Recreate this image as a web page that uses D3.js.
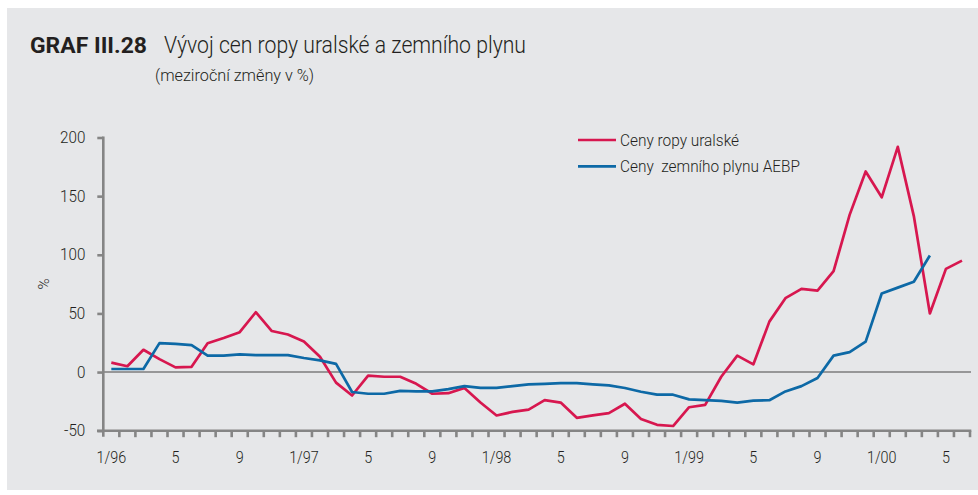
<!DOCTYPE html>
<html>
<head>
<meta charset="utf-8">
<script src="https://cdn.jsdelivr.net/npm/d3@7"></script>
<style>
  body { margin: 0; background: #ffffff; }
  text { font-family: Roboto, "Open Sans", sans-serif; fill: #231f20; }
</style>
</head>
<body>
<svg id="chart" width="978" height="495"></svg>
<script>
// Monthly categories, 1/1996 – 6/2000
const months = [
  "1/96","2/96","3/96","4/96","5/96","6/96","7/96","8/96","9/96","10/96","11/96","12/96",
  "1/97","2/97","3/97","4/97","5/97","6/97","7/97","8/97","9/97","10/97","11/97","12/97",
  "1/98","2/98","3/98","4/98","5/98","6/98","7/98","8/98","9/98","10/98","11/98","12/98",
  "1/99","2/99","3/99","4/99","5/99","6/99","7/99","8/99","9/99","10/99","11/99","12/99",
  "1/00","2/00","3/00","4/00","5/00","6/00"
];

// Urals crude oil price, year-on-year change in %
const oil = [
  8, 5, 19, 11, 4, 4.5, 24.5, 29, 34, 51, 35, 32,
  26, 13, -9, -20, -3, -4, -4, -10, -18.5, -18, -13.5, -26,
  -37, -34, -32, -24, -26, -39, -37, -35, -27, -40, -45, -46,
  -30, -28, -4, 14, 6.5, 43, 63, 71, 69.5, 86, 134, 171,
  149, 192, 133, 50, 88, 95
];

// AEBP natural gas price, year-on-year change in %
const gas = [
  2.6, 2.6, 2.6, 24.7, 24, 23, 14, 14, 15, 14.5, 14.5, 14.5,
  12, 10, 7, -17, -18.5, -18.5, -16, -16.5, -16.5, -14.5, -12, -13.5,
  -13.5, -12, -10.5, -10, -9.4, -9.4, -10.5, -11.4, -13.6, -16.8, -19.3, -19.3,
  -23.3, -24, -24.5, -26, -24.4, -24, -16.5, -12, -5, 14, 17, 26,
  67, 72, 77, 99.4
];

// Axis labels
const xTickLabels = ["1/96","5","9","1/97","5","9","1/98","5","9","1/99","5","9","1/00","5"];
const yTicks = [-50, 0, 50, 100, 150, 200];

const seriesNames = ["Ceny ropy uralské", "Ceny  zemního plynu AEBP"];
const colors = ["#d7174f", "#0d69a6"];

const svg = d3.select("#chart");

// panel background
svg.append("rect")
  .attr("x", 7).attr("y", 8).attr("width", 971).attr("height", 482)
  .attr("fill", "#e6e7e9");

// titles
svg.append("text")
  .attr("x", 30).attr("y", 53)
  .attr("font-size", 22).attr("font-weight", "bold")
  .attr("textLength", 117).attr("lengthAdjust", "spacingAndGlyphs")
  .text("GRAF III.28");
svg.append("text")
  .attr("x", 164).attr("y", 53)
  .attr("font-size", 23).attr("font-weight", 300)
  .attr("textLength", 362).attr("lengthAdjust", "spacingAndGlyphs")
  .text("Vývoj cen ropy uralské a zemního plynu");
svg.append("text")
  .attr("x", 155).attr("y", 81)
  .attr("font-size", 16).attr("font-weight", 300)
  .attr("textLength", 159).attr("lengthAdjust", "spacingAndGlyphs")
  .text("(meziroční změny v %)");

// scales
const x = d3.scaleLinear().domain([0, months.length]).range([103.3, 970]);
const y = d3.scaleLinear().domain([-50, 200]).range([430.7, 137.5]);
const cx = i => x(i + 0.5);

const axisColor = "#858585";

// zero line
svg.append("line")
  .attr("x1", x(0)).attr("x2", 971)
  .attr("y1", y(0)).attr("y2", y(0))
  .attr("stroke", "#7d7d7d").attr("stroke-width", 1.4);

// y axis
const yAxis = svg.append("g")
  .attr("transform", `translate(${x(0)},0)`)
  .call(d3.axisLeft(y).tickValues(yTicks).tickSize(6).tickPadding(12).tickFormat(d => String(d)));
yAxis.select(".domain").remove();
yAxis.append("line")
  .attr("x1", 0).attr("x2", 0).attr("y1", y(200) - 1).attr("y2", y(-50) + 6)
  .attr("stroke", axisColor).attr("stroke-width", 2.6);
yAxis.selectAll(".tick line").attr("stroke", axisColor).attr("stroke-width", 2.6);
yAxis.selectAll(".tick text").attr("font-size", 16).attr("fill", "#231f20")
  .attr("font-weight", 300)
  .style("font-family", "Roboto, sans-serif")
  .each(function () {
    const w = this.getComputedTextLength();
    d3.select(this).attr("textLength", w * 0.95).attr("lengthAdjust", "spacingAndGlyphs");
  });

// x axis: tick marks at month boundaries, labels centred in every 4th month
const xAxis = svg.append("g").attr("transform", `translate(0,${y(-50)})`);
xAxis.append("line")
  .attr("x1", 97).attr("x2", x(months.length) + 1.3)
  .attr("stroke", axisColor).attr("stroke-width", 2.6);
xAxis.selectAll("line.tk")
  .data(d3.range(1, months.length + 1))
  .join("line").attr("class", "tk")
  .attr("x1", d => x(d)).attr("x2", d => x(d))
  .attr("y1", 0).attr("y2", 6.5)
  .attr("stroke", axisColor).attr("stroke-width", 2.6);
xAxis.selectAll("text")
  .data(xTickLabels)
  .join("text")
  .attr("x", (d, i) => cx(i * 4))
  .attr("y", 32)
  .attr("text-anchor", "middle")
  .attr("font-size", 16.5).attr("font-weight", 300)
  .text(d => d)
  .each(function () {
    const w = this.getComputedTextLength();
    d3.select(this).attr("textLength", w * 0.87).attr("lengthAdjust", "spacingAndGlyphs");
  });

// y axis title
svg.append("text")
  .attr("transform", `translate(49,284) rotate(-90)`)
  .attr("text-anchor", "middle")
  .attr("font-size", 15).attr("font-weight", 300)
  .text("%");

// series lines
const line = d3.line().x((d, i) => cx(i)).y(d => y(d));
[oil, gas].forEach((vals, k) => {
  svg.append("path")
    .datum(vals)
    .attr("d", line)
    .attr("fill", "none")
    .attr("stroke", colors[k])
    .attr("stroke-width", 2.7)
    .attr("stroke-linejoin", "round");
});

// legend
const legendWidths = [119, 180];
seriesNames.forEach((name, k) => {
  const ly = 140 + k * 26.3;
  svg.append("line")
    .attr("x1", 578).attr("x2", 616)
    .attr("y1", ly).attr("y2", ly)
    .attr("stroke", colors[k]).attr("stroke-width", 2.7);
  svg.append("text")
    .attr("x", 620).attr("y", ly + 5.5)
    .attr("font-size", 16).attr("font-weight", 300)
    .attr("xml:space", "preserve")
    .style("white-space", "pre")
    .attr("textLength", legendWidths[k]).attr("lengthAdjust", "spacingAndGlyphs")
    .text(name);
});
</script>
</body>
</html>
